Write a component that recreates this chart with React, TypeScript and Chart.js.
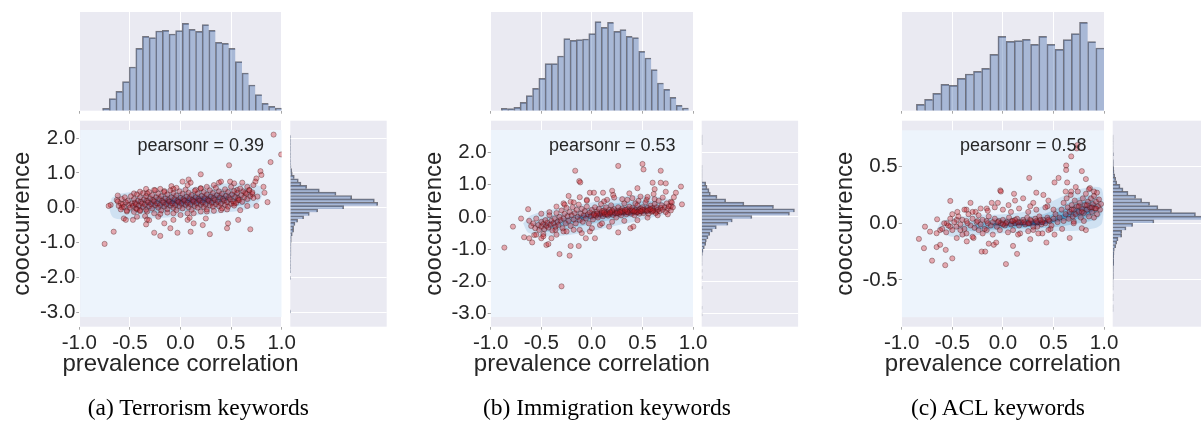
import React, { useEffect, useRef } from "react";
import { Chart, registerables } from "chart.js";
Chart.register(...registerables);

type P = [number, number];

// ---------------- data ----------------
const captions = ["(a) Terrorism keywords", "(b) Immigration keywords", "(c) ACL keywords"];
const pearsonLabels = ["pearsonr = 0.39", "pearsonr = 0.53", "pearsonr = 0.58"];
const xTitle = "prevalence correlation";
const yTitle = "cooccurrence";

const xTicks = [-1, -0.5, 0, 0.5, 1];
const xTickLabels = ["-1.0", "-0.5", "0.0", "0.5", "1.0"];
const yTicksAB = [-3, -2, -1, 0, 1, 2];
const yTickLabelsAB = ["-3.0", "-2.0", "-1.0", "0.0", "1.0", "2.0"];
const yTicksC = [-0.5, 0, 0.5];
const yTickLabelsC = ["-0.5", "0.0", "0.5"];
const yMin = [-3.42, -3.4, -0.913];
const yMax = [2.5, 2.98, 0.905];

// top marginal histograms (bar heights, first bin edge, bin width)
const topA = [7, 36, 58, 87, 131, 187, 223, 219, 239, 241, 230, 240, 262, 244, 238, 258, 241, 205, 202, 187, 147, 113, 77, 48, 22, 13, 8];
const topB = [7, 6, 10, 25, 45, 67, 97, 141, 141, 164, 216, 211, 213, 215, 231, 267, 250, 265, 238, 243, 223, 219, 178, 158, 123, 83, 64, 40, 16, 8];
const topC = [19, 34, 52, 79, 76, 97, 110, 118, 127, 169, 223, 208, 210, 214, 199, 223, 199, 184, 213, 231, 265, 207, 188];
const topStart = [-0.77, -0.895, -0.855];
const topWidth = [0.0656, 0.0617, 0.0806];
const topMax = 296;

// right marginal histograms, listed from the top bin downward
const rightA = [1, 1, 1, 1, 1, 1, 1, 1, 1, 2, 4, 6, 12, 24, 32, 49, 87, 137, 184, 252, 262, 160, 82, 57, 40, 22, 14, 10, 10, 6, 3, 3, 2, 2, 2, 2, 1, 1, 1, 1, 1, 0, 1, 0, 0, 0, 0, 0, 0, 0, 0, 0, 1];
const rightB = [1, 1, 1, 0, 0, 0, 0, 0, 0, 1, 1, 1, 1, 1, 12, 16, 22, 26, 46, 72, 127, 216, 279, 264, 151, 92, 79, 44, 32, 24, 19, 14, 12, 8, 4, 2, 1, 1, 1, 0, 1, 0, 1, 0, 0, 1, 0, 0, 0, 0, 0, 1, 0, 1];
const rightC = [1, 1, 1, 1, 1, 2, 1, 2, 2, 3, 4, 6, 9, 12, 22, 31, 46, 69, 87, 111, 136, 177, 249, 300, 124, 60, 40, 27, 27, 16, 12, 9, 5, 4, 3, 3, 3, 2, 2, 2, 2, 1, 1, 1, 0, 1, 1, 0, 1, 1];
const rightTop = [2.09, 2.54, 0.78];
const rightWidth = [0.0967, 0.104, 0.0312];
const rightMax = [289, 290, 290];

// scatter points
const scatterA: P[] = [
  [0.92, 2.1], [0.995, 1.53], [0.89, 1.31], [0.48, 1.22], [0.79, 1.05], [0.8, 0.94], [0.2, 0.96], [0.75, 0.84], [0.82, 0.6], [0.86, 0.16], [0.83, 0.43], [0.08, 0.81], [0.02, 0.75],
  [-0.75, -1.04], [-0.66, -0.69], [-0.69, 0.08], [-0.71, 0.05], [-0.62, 0.35], [-0.56, -0.31], [-0.54, -0.35], [-0.47, -0.35], [-0.34, -0.48], [-0.35, -0.24], [-0.33, -0.34], [-0.31, -0.36], [-0.26, -0.72], [-0.2, -0.81], [-0.16, -0.45], [-0.1, -0.59], [-0.03, -0.72], [0.1, -0.69], [0.13, -0.45], [0.22, -0.5], [0.29, -0.76], [0.46, -0.59], [0.47, -0.45], [0.57, -0.35], [0.69, -0.62], [0.07, -0.35], [-0.07, -0.35], [-0.22, -0.26], [-0.43, -0.26], [0.09, -0.29], [0.25, -0.31],
  [-0.09, 0.62], [-0.04, 0.57], [0.07, 0.65], [0.1, 0.72], [-0.07, 0.54], [-0.2, 0.54], [-0.16, 0.48], [-0.26, 0.51], [-0.34, 0.54], [-0.4, 0.46], [-0.46, 0.41], [-0.33, 0.41], [0.38, 0.72], [0.4, 0.75], [0.49, 0.75], [0.53, 0.7], [0.61, 0.72], [0.66, 0.6], [0.68, 0.51], [0.56, 0.51], [0.74, 0.75], [0.72, 0.65], [0.26, 0.6], [0.2, 0.56], [0.33, 0.65], [0.15, 0.51], [0.71, 0.39], [0.76, 0.32], [0.64, 0.43], [0.57, 0.22], [0.53, 0.12], [0.66, 0.05], [0.75, 0.05], [0.59, -0.07],
  [-0.63, 0.22], [-0.59, 0.12], [-0.58, 0.01], [-0.53, -0.11], [-0.44, -0.02], [-0.4, -0.07], [-0.33, -0.11], [-0.26, -0.16], [-0.2, -0.18], [-0.13, -0.14], [-0.07, -0.16], [0.0, -0.21], [0.07, -0.16], [0.13, -0.16], [0.2, -0.11], [0.26, -0.11], [0.33, -0.09], [0.4, -0.07], [0.46, -0.05],
  [-0.62, 0.18], [-0.61, 0.05], [-0.58, 0.25], [-0.57, 0.1], [-0.59, -0.05], [-0.55, 0.3], [-0.54, 0.15], [-0.56, 0.02], [-0.52, 0.2], [-0.51, 0.08], [-0.53, -0.08], [-0.49, 0.33], [-0.48, 0.12], [-0.5, 0.0], [-0.46, 0.25], [-0.45, 0.14], [-0.47, 0.05], [-0.46, -0.12], [-0.43, 0.38], [-0.42, 0.2], [-0.44, 0.1], [-0.43, -0.04], [-0.4, 0.3], [-0.39, 0.17], [-0.41, 0.06], [-0.4, -0.1], [-0.37, 0.42], [-0.36, 0.24], [-0.38, 0.12], [-0.37, 0.02], [-0.34, 0.33], [-0.33, 0.2], [-0.35, 0.09], [-0.34, -0.06], [-0.31, 0.45], [-0.3, 0.27], [-0.32, 0.15], [-0.31, 0.04], [-0.28, 0.36], [-0.27, 0.22], [-0.29, 0.1], [-0.28, -0.02], [-0.25, 0.5], [-0.24, 0.3], [-0.26, 0.18], [-0.25, 0.07], [-0.22, 0.4], [-0.21, 0.25], [-0.23, 0.12], [-0.22, 0.0], [-0.19, 0.33], [-0.18, 0.2], [-0.2, 0.08], [-0.19, -0.08], [-0.16, 0.45], [-0.15, 0.27], [-0.17, 0.15], [-0.16, 0.03], [-0.13, 0.38], [-0.12, 0.22], [-0.14, 0.1], [-0.13, -0.04], [-0.1, 0.5], [-0.09, 0.3], [-0.11, 0.17], [-0.1, 0.06], [-0.07, 0.42], [-0.06, 0.25], [-0.08, 0.12], [-0.07, 0.0], [-0.04, 0.35], [-0.03, 0.2], [-0.05, 0.08], [-0.04, -0.07], [-0.01, 0.47], [0.0, 0.28], [-0.02, 0.16], [-0.01, 0.04], [0.02, 0.4], [0.03, 0.24], [0.01, 0.12], [0.02, -0.02], [0.05, 0.52], [0.06, 0.32], [0.04, 0.2], [0.05, 0.08], [0.08, 0.43], [0.09, 0.27], [0.07, 0.14], [0.08, 0.01], [0.11, 0.36], [0.12, 0.22], [0.1, 0.1], [0.11, -0.06], [0.14, 0.48], [0.15, 0.3], [0.13, 0.18], [0.14, 0.05], [0.17, 0.41], [0.18, 0.25], [0.16, 0.13], [0.17, 0.0], [0.2, 0.55], [0.21, 0.34], [0.19, 0.2], [0.2, 0.08], [0.23, 0.45], [0.24, 0.28], [0.22, 0.15], [0.23, 0.02], [0.26, 0.38], [0.27, 0.23], [0.25, 0.1], [0.26, -0.05], [0.29, 0.5], [0.3, 0.32], [0.28, 0.2], [0.29, 0.07], [0.32, 0.42], [0.33, 0.27], [0.31, 0.14], [0.32, 0.03], [0.35, 0.57], [0.36, 0.36], [0.34, 0.22], [0.35, 0.1], [0.38, 0.47], [0.39, 0.3], [0.37, 0.17], [0.38, 0.04], [0.41, 0.4], [0.42, 0.25], [0.4, 0.12], [0.41, -0.02], [0.44, 0.53], [0.45, 0.34], [0.43, 0.2], [0.44, 0.08], [0.47, 0.45], [0.48, 0.29], [0.46, 0.16], [0.47, 0.03], [0.5, 0.6], [0.51, 0.38], [0.49, 0.24], [0.5, 0.11], [0.53, 0.48], [0.54, 0.31], [0.52, 0.18], [0.53, 0.06], [0.56, 0.42], [0.57, 0.27], [0.55, 0.14], [0.59, 0.55], [0.6, 0.36], [0.58, 0.22], [0.62, 0.47], [0.63, 0.3], [0.61, 0.17], [0.65, 0.4], [0.66, 0.25], [0.68, 0.5], [0.69, 0.33], [0.71, 0.44], [0.72, 0.28],
];

const scatterB: P[] = [
  [-0.865, -0.95], [-0.78, -0.3], [-0.7, -0.05], [-0.67, -0.63], [-0.63, 0.24], [-0.62, -0.66], [-0.59, -0.79], [-0.57, -0.56], [-0.5, -0.66], [-0.45, -0.87], [-0.43, -0.84], [-0.48, -0.53], [-0.4, -0.66], [-0.32, -1.15], [-0.22, -1.2], [-0.3, -2.15], [-0.21, -0.9], [-0.13, -0.9],
  [-0.165, 1.43], [-0.125, 1.11], [-0.115, 1.07], [-0.23, 0.65], [-0.02, 0.75], [0.02, 0.75], [0.26, 1.58], [0.5, 1.64], [0.51, 1.47], [0.68, 1.43], [0.6, 1.06], [0.62, 0.86], [0.68, 1.06], [0.73, 1.04], [0.73, 0.78], [0.88, 0.94], [0.89, 0.39], [0.83, 0.75], [0.78, 0.47], [0.81, 0.61], [0.78, 0.34], [0.61, 0.71], [0.45, 0.89], [0.37, 0.73], [0.2, 0.81], [0.21, 0.68], [0.11, 0.75], [0.15, 0.53],
  [0.26, -0.48], [0.38, -0.35], [0.41, -0.3], [-0.06, -0.66], [0.03, -0.66], [-0.02, -0.45], [-0.1, -0.5], [0.08, -0.25], [0.17, -0.3], [-0.18, -0.4], [-0.28, -0.45], [-0.36, -0.4], [0.64, 0.16], [0.48, 0.63], [-0.28, 0.42], [-0.35, 0.32], [-0.21, 0.47], [-0.12, 0.61], [-0.05, 0.53], [0.35, 0.53], [0.43, 0.42], [0.54, 0.53],
  [-0.27, 0.38], [-0.18, 0.45], [-0.05, 0.5], [0.05, 0.55], [0.12, 0.48], [0.22, 0.6], [0.3, 0.55], [0.4, 0.58], [0.46, 0.5], [0.55, 0.62], [0.62, 0.55], [0.7, 0.6], [-0.42, 0.15], [-0.5, 0.1], [-0.55, -0.55], [-0.48, -0.6], [-0.35, -0.55], [-0.25, -0.45], [-0.12, -0.4], [0.0, -0.35], [0.1, -0.2], [0.2, -0.15], [0.32, -0.12], [0.45, -0.1], [0.55, -0.02], [0.65, 0.05], [0.75, 0.08],
  [-0.62, -0.12], [-0.6, -0.28], [-0.58, -0.2], [-0.56, -0.35], [-0.55, -0.05], [-0.53, -0.25], [-0.52, -0.4], [-0.5, -0.15], [-0.5, -0.3], [-0.48, -0.22], [-0.47, -0.38], [-0.46, -0.1], [-0.45, -0.28], [-0.44, -0.18], [-0.43, -0.33], [-0.42, 0.05], [-0.41, -0.24], [-0.4, -0.12], [-0.39, -0.42], [-0.38, -0.2], [-0.37, -0.05], [-0.36, -0.3], [-0.35, 0.12], [-0.34, -0.15], [-0.33, -0.25], [-0.32, 0.0], [-0.31, -0.1], [-0.3, 0.2], [-0.29, -0.35], [-0.28, -0.05], [-0.27, 0.1], [-0.26, -0.2], [-0.25, 0.28], [-0.24, 0.02], [-0.23, -0.12], [-0.22, 0.15], [-0.21, -0.28], [-0.2, 0.05], [-0.19, 0.3], [-0.18, -0.08], [-0.17, 0.12], [-0.16, -0.2], [-0.15, 0.22], [-0.14, 0.0], [-0.13, 0.38], [-0.12, -0.1], [-0.11, 0.1], [-0.1, 0.25], [-0.09, -0.15], [-0.08, 0.05], [-0.07, 0.18], [-0.06, -0.05], [-0.05, 0.32], [-0.04, 0.08], [-0.03, -0.2], [-0.02, 0.14], [-0.01, 0.02], [0.0, 0.22], [0.01, -0.08], [0.02, 0.1], [0.03, 0.3], [0.04, 0.04], [0.05, 0.16], [0.06, -0.02], [0.07, 0.25], [0.08, 0.08], [0.09, 0.4], [0.1, 0.12], [0.11, 0.02], [0.12, 0.2], [0.13, 0.08], [0.14, 0.3], [0.15, 0.14], [0.16, 0.04], [0.17, 0.22], [0.18, 0.1], [0.19, 0.36], [0.2, 0.16], [0.21, 0.06], [0.22, 0.24], [0.23, 0.12], [0.24, -0.02], [0.25, 0.18], [0.26, 0.3], [0.27, 0.1], [0.28, 0.2], [0.29, 0.05], [0.3, 0.26], [0.31, 0.14], [0.32, 0.42], [0.33, 0.18], [0.34, 0.08], [0.35, 0.24], [0.36, 0.13], [0.37, 0.32], [0.38, 0.2], [0.39, 0.1], [0.4, 0.28], [0.41, 0.16], [0.42, 0.05], [0.43, 0.22], [0.44, 0.14], [0.45, 0.36], [0.46, 0.2], [0.47, 0.1], [0.48, 0.26], [0.49, 0.17], [0.5, 0.3], [0.51, 0.12], [0.52, 0.22], [0.53, 0.45], [0.54, 0.18], [0.55, 0.28], [0.56, 0.1], [0.57, 0.23], [0.58, 0.35], [0.59, 0.16], [0.6, 0.27], [0.61, 0.2], [0.62, 0.4], [0.63, 0.12], [0.64, 0.3], [0.65, 0.22], [0.66, 0.5], [0.67, 0.18], [0.68, 0.28], [0.69, 0.36], [0.7, 0.22], [0.72, 0.3], [0.73, 0.15], [0.74, 0.42], [0.75, 0.25], [0.76, 0.33], [0.78, 0.2], [0.79, 0.45], [0.8, 0.3],
  [0.05, 0.1], [0.1, 0.18], [0.15, 0.08], [0.2, 0.2], [0.25, 0.12], [0.3, 0.18], [0.35, 0.16], [0.4, 0.2], [0.45, 0.15], [0.5, 0.22], [0.55, 0.2], [0.6, 0.18], [0.12, 0.14], [0.28, 0.15], [0.42, 0.18], [0.58, 0.24], [0.02, 0.06], [0.18, 0.14], [0.33, 0.22], [0.48, 0.18],
];

const scatterC: P[] = [
  [-0.83, -0.138], [-0.78, -0.22], [-0.77, -0.03], [-0.7, -0.33], [-0.655, -0.21], [-0.62, -0.19], [-0.57, -0.37], [-0.565, -0.235], [-0.5, -0.31], [-0.52, 0.197], [-0.65, 0.035], [-0.72, -0.074], [-0.655, -0.088], [-0.456, -0.13], [-0.357, -0.16], [-0.29, -0.13], [-0.36, -0.09], [-0.21, -0.25], [-0.175, -0.25], [-0.14, -0.18], [-0.09, -0.19], [-0.066, -0.17], [-0.026, 0.29], [-0.02, 0.28], [0.03, -0.36], [0.14, -0.27], [0.1, -0.2], [0.27, -0.14], [0.43, -0.17], [0.51, -0.1], [0.66, -0.13], [0.82, -0.06],
  [0.26, 0.4], [0.11, 0.26], [0.2, 0.22], [0.33, 0.27], [0.4, 0.25], [0.51, 0.36], [0.55, 0.4], [0.635, 0.36], [0.625, 0.51], [0.625, 0.47], [0.675, 0.59], [0.73, 0.66], [0.735, 0.69], [0.78, 0.46], [0.82, 0.39], [0.86, 0.31], [0.9, 0.28], [0.675, 0.28],
  [-0.27, 0.1], [-0.16, 0.13], [-0.36, 0.12], [0.3, -0.06], [0.39, -0.09], [-0.03, -0.06], [0.1, -0.06], [0.17, -0.09], [0.34, -0.03], [0.47, -0.05], [0.585, -0.05], [0.7, 0.015], [0.78, -0.044], [-0.456, 0.03], [-0.555, 0.0], [-0.62, -0.06], [-0.52, -0.03], [-0.42, -0.06], [-0.24, -0.06], [-0.16, -0.06], [-0.11, 0.18], [0.056, 0.16], [0.27, 0.15], [0.44, 0.15],
  [-0.6, -0.05], [-0.58, 0.0], [-0.56, -0.08], [-0.54, -0.02], [-0.52, 0.04], [-0.5, -0.06], [-0.48, 0.01], [-0.46, -0.03], [-0.44, 0.06], [-0.42, -0.01], [-0.4, 0.03], [-0.38, -0.05], [-0.36, 0.02], [-0.34, 0.08], [-0.32, -0.02], [-0.3, 0.04], [-0.28, -0.04], [-0.26, 0.01], [-0.24, 0.07], [-0.22, -0.01], [-0.2, 0.03], [-0.18, -0.05], [-0.16, 0.02], [-0.14, 0.06], [-0.12, -0.02], [-0.1, 0.01], [-0.08, 0.04], [-0.06, -0.03], [-0.04, 0.02], [-0.02, 0.0], [0.0, 0.03], [0.02, -0.02], [0.04, 0.01], [0.06, 0.05], [0.08, -0.01], [0.1, 0.02], [0.12, 0.0], [0.14, 0.04], [0.16, -0.02], [0.18, 0.01], [0.2, 0.03], [0.22, -0.01], [0.24, 0.05], [0.26, 0.0], [0.28, 0.02], [0.3, -0.03], [0.32, 0.04], [0.34, 0.01], [0.36, 0.06], [0.38, -0.01], [0.4, 0.03], [0.42, 0.0], [0.44, 0.05], [0.46, 0.02], [0.48, -0.02], [0.5, 0.04], [0.52, 0.08], [0.54, 0.01],
  [-0.05, 0.01], [0.03, 0.0], [0.09, 0.02], [0.15, 0.01], [0.21, 0.01], [0.27, 0.03], [0.33, 0.02], [0.39, 0.01], [0.45, 0.03], [-0.15, 0.0], [-0.25, 0.02], [-0.35, 0.0], [0.0, -0.01], [0.12, 0.03], [0.25, 0.0], [0.37, 0.03],
  [-0.45, 0.1], [-0.38, 0.12], [-0.3, 0.1], [-0.22, 0.13], [-0.15, 0.11], [-0.08, 0.14], [0.0, 0.12], [0.08, 0.1], [0.16, 0.13], [0.25, 0.1], [0.33, 0.12], [0.42, 0.14], [0.5, 0.12], [-0.5, 0.08], [-0.4, -0.1], [-0.3, -0.12], [-0.2, -0.09], [-0.1, -0.1], [0.05, -0.08], [0.15, -0.1], [0.25, -0.07], [0.35, -0.09], [0.45, -0.06], [-0.05, 0.18], [0.12, 0.2], [0.3, 0.18], [0.45, 0.2], [-0.32, 0.18],
  [0.56, 0.05], [0.58, 0.12], [0.6, 0.02], [0.6, 0.18], [0.62, 0.08], [0.63, 0.22], [0.64, 0.14], [0.65, 0.04], [0.66, 0.1], [0.67, 0.25], [0.68, 0.16], [0.69, 0.06], [0.7, 0.12], [0.71, 0.2], [0.72, 0.08], [0.73, 0.15], [0.74, 0.28], [0.75, 0.1], [0.76, 0.18], [0.77, 0.05], [0.78, 0.13], [0.79, 0.22], [0.8, 0.09], [0.81, 0.16], [0.82, 0.26], [0.83, 0.12], [0.84, 0.19], [0.85, 0.06], [0.86, 0.14], [0.87, 0.22], [0.88, 0.1], [0.89, 0.17], [0.9, 0.24], [0.91, 0.13], [0.92, 0.19], [0.93, 0.08], [0.94, 0.15], [0.95, 0.21], [0.96, 0.12], [0.97, 0.17], [0.7, 0.0], [0.8, 0.02], [0.9, 0.05], [0.62, 0.28], [0.72, 0.32], [0.85, 0.3], [0.93, 0.27], [0.78, 0.1], [0.88, 0.14], [0.68, 0.12], [0.83, 0.16], [0.75, 0.15], [0.92, 0.13],
];

// KDE contour levels (lowest level first), vertices in data units
const kdeA: P[][] = [
  [[-0.99, 2.23], [1.0, 2.23], [1.0, -3.14], [-0.99, -3.14]],
  [[-0.68, 0.28], [-0.6, 0.4], [-0.3, 0.5], [0.1, 0.58], [0.5, 0.7], [0.78, 0.62], [0.8, 0.3], [0.7, 0.0], [0.4, -0.15], [0.0, -0.25], [-0.4, -0.32], [-0.65, -0.3], [-0.7, -0.05], [-0.68, 0.28]],
  [[-0.55, 0.22], [-0.3, 0.38], [0.1, 0.46], [0.5, 0.55], [0.7, 0.48], [0.68, 0.15], [0.4, 0.0], [0.0, -0.1], [-0.4, -0.15], [-0.58, -0.05], [-0.55, 0.22]],
  [[-0.45, 0.2], [-0.2, 0.33], [0.2, 0.4], [0.55, 0.42], [0.6, 0.25], [0.35, 0.08], [0.0, 0.0], [-0.35, -0.05], [-0.5, 0.05], [-0.45, 0.2]],
  [[-0.3, 0.2], [0.0, 0.3], [0.35, 0.35], [0.5, 0.3], [0.4, 0.15], [0.1, 0.08], [-0.2, 0.05], [-0.35, 0.1], [-0.3, 0.2]],
  [[-0.15, 0.2], [0.1, 0.27], [0.3, 0.28], [0.3, 0.18], [0.05, 0.12], [-0.15, 0.12], [-0.15, 0.2]],
];
const kdeB: P[][] = [
  [[-1.0, 2.69], [1.0, 2.69], [1.0, -3.1], [-1.0, -3.1]],
  [[-0.68, -0.2], [-0.6, 0.05], [-0.35, 0.25], [0.0, 0.45], [0.35, 0.65], [0.7, 0.6], [0.82, 0.4], [0.78, 0.15], [0.55, -0.05], [0.2, -0.3], [-0.1, -0.5], [-0.4, -0.6], [-0.62, -0.5], [-0.68, -0.2]],
  [[-0.58, -0.2], [-0.45, 0.0], [-0.2, 0.15], [0.1, 0.35], [0.4, 0.48], [0.7, 0.45], [0.75, 0.25], [0.5, 0.05], [0.15, -0.12], [-0.2, -0.35], [-0.5, -0.45], [-0.58, -0.2]],
  [[-0.5, -0.2], [-0.3, -0.05], [0.0, 0.15], [0.3, 0.3], [0.65, 0.35], [0.68, 0.18], [0.4, 0.05], [0.1, -0.05], [-0.2, -0.2], [-0.45, -0.35], [-0.5, -0.2]],
  [[-0.15, 0.02], [0.1, 0.17], [0.4, 0.25], [0.62, 0.25], [0.55, 0.12], [0.3, 0.05], [0.05, -0.02], [-0.12, -0.06], [-0.15, 0.02]],
  [[0.05, 0.1], [0.3, 0.2], [0.5, 0.2], [0.45, 0.1], [0.2, 0.05], [0.05, 0.03], [0.05, 0.1]],
];
const kdeC: P[][] = [
  [[-1.0, 0.82], [1.0, 0.82], [1.0, -0.83], [-1.0, -0.83]],
  [[-0.65, -0.05], [-0.6, 0.02], [-0.3, 0.07], [0.0, 0.08], [0.3, 0.12], [0.55, 0.22], [0.75, 0.3], [0.98, 0.3], [0.98, 0.0], [0.8, -0.06], [0.5, -0.07], [0.2, -0.08], [-0.2, -0.1], [-0.5, -0.12], [-0.65, -0.05]],
  [[-0.5, -0.04], [-0.2, 0.04], [0.1, 0.05], [0.4, 0.08], [0.6, 0.16], [0.8, 0.24], [0.96, 0.22], [0.96, 0.06], [0.75, 0.0], [0.45, -0.04], [0.1, -0.05], [-0.3, -0.07], [-0.5, -0.04]],
  [[-0.3, -0.02], [0.0, 0.03], [0.35, 0.04], [0.6, 0.12], [0.85, 0.2], [0.95, 0.14], [0.85, 0.06], [0.6, 0.02], [0.3, -0.03], [0.0, -0.04], [-0.25, -0.05], [-0.3, -0.02]],
  [[-0.1, 0.0], [0.15, 0.025], [0.45, 0.03], [0.7, 0.12], [0.9, 0.16], [0.88, 0.1], [0.65, 0.05], [0.4, -0.01], [0.1, -0.025], [-0.1, -0.02], [-0.1, 0.0]],
  [[0.05, 0.0], [0.3, 0.02], [0.45, 0.02], [0.4, -0.01], [0.15, -0.015], [0.05, 0.0]],
];

const scatterData = [scatterA, scatterB, scatterC];
const kdeData = [kdeA, kdeB, kdeC];
const topData = [topA, topB, topC];
const rightData = [rightA, rightB, rightC];

// ---------------- styling / layout ----------------
const FONT = "'Liberation Sans', Arial, Helvetica, sans-serif";
const TEXT = "#262626";
const BG = "#EAEAF2";
const TICKC = "rgba(60,60,60,0.45)";
const BAR_FILL = "rgba(76,114,176,0.42)";
const BAR_EDGE = "rgba(40,40,50,0.6)";
const PT_FILL = "rgba(210,30,40,0.36)";
const PT_EDGE = "rgba(55,15,15,0.42)";
const KDE_COLORS = ["#EDF4FC", "#CFE1F2", "#A9CCE6", "#77B3D9", "#4292C6", "#1F6AAE"];

const CW = 1220;
const CH = 423;
const OFFS = [0, 411.4, 822.4];
const SC = { left: 79.3, right: 281.7, top: 120.7, bottom: 326.7, axisBottom: 380, xTitleMid: 364.3 };
const TOPH = { top: 12, bottom: 110.7 };
const RH = { left: 290.3, right: 386.7 };
const CAPTION_X = [198.3, 607, 998];

Chart.defaults.font.family = FONT;

const bgPlugin = {
  id: "bgArea",
  beforeDraw(chart: any) {
    const { ctx, chartArea: a } = chart;
    ctx.save();
    ctx.fillStyle = BG;
    ctx.fillRect(a.left, a.top, a.right - a.left, a.bottom - a.top);
    ctx.restore();
  },
};

function textPlugin(pearson: string) {
  return {
    id: "texts",
    afterDatasetsDraw(chart: any) {
      const { ctx, chartArea: a } = chart;
      ctx.save();
      ctx.font = `18px ${FONT}`;
      ctx.fillStyle = TEXT;
      ctx.textAlign = "right";
      ctx.textBaseline = "alphabetic";
      ctx.fillText(pearson, a.right - 17.6, 151);
      ctx.restore();
    },
    afterDraw(chart: any) {
      const { ctx, chartArea: a } = chart;
      ctx.save();
      ctx.font = `24px ${FONT}`;
      ctx.fillStyle = TEXT;
      ctx.textAlign = "center";
      ctx.textBaseline = "middle";
      ctx.fillText(xTitle, (a.left + a.right) / 2, SC.xTitleMid);
      ctx.restore();
    },
  };
}

function scatterConfig(i: number): any {
  const dx = OFFS[i];
  const yt = i === 2 ? yTicksC : yTicksAB;
  const yl = i === 2 ? yTickLabelsC : yTickLabelsAB;
  const datasets: any[] = [
    {
      type: "scatter",
      data: scatterData[i].map(([x, y]) => ({ x, y })),
      backgroundColor: PT_FILL,
      borderColor: PT_EDGE,
      borderWidth: 0.8,
      pointRadius: 2.6,
      clip: 0,
      order: 0,
    },
  ];
  kdeData[i].forEach((poly, k) => {
    datasets.push({
      type: "line",
      data: poly.map(([x, y]) => ({ x, y })),
      fill: "shape",
      backgroundColor: KDE_COLORS[k],
      borderColor: "rgba(0,0,0,0)",
      borderWidth: 0,
      pointRadius: 0,
      tension: k === 0 ? 0 : 0.35,
      order: 10 - k,
    });
  });
  return {
    type: "scatter",
    data: { datasets },
    options: {
      animation: false,
      responsive: false,
      events: [],
      layout: { padding: { left: dx, right: CW - SC.right - dx, top: SC.top, bottom: CH - SC.axisBottom } },
      plugins: { legend: { display: false }, tooltip: { enabled: false } },
      scales: {
        x: {
          type: "linear",
          min: -1,
          max: 1,
          afterBuildTicks: (s: any) => { s.ticks = xTicks.map((v) => ({ value: v })); },
          ticks: { autoSkip: false, maxRotation: 0, minRotation: 0, padding: 1, color: TEXT, font: { size: 20.5 }, callback: (_v: any, idx: number) => xTickLabels[idx] },
          grid: { color: "#ffffff", lineWidth: 1, tickLength: 3, tickColor: TICKC },
          border: { display: false },
          title: { display: false },
          afterFit: (s: any) => { s.height = SC.axisBottom - SC.bottom; },
        },
        y: {
          type: "linear",
          min: yMin[i],
          max: yMax[i],
          afterBuildTicks: (s: any) => { s.ticks = yt.map((v) => ({ value: v })); },
          ticks: { autoSkip: false, padding: 1, color: TEXT, font: { size: 20.5 }, callback: (_v: any, idx: number) => yl[idx] },
          grid: { color: "#ffffff", lineWidth: 1, tickLength: 3, tickColor: TICKC },
          border: { display: false },
          title: { display: true, text: yTitle, color: TEXT, font: { size: 24 }, padding: { top: 8.2, bottom: 0 } },
          afterFit: (s: any) => { s.width = SC.left; },
        },
      },
    },
    plugins: [bgPlugin, textPlugin(pearsonLabels[i])],
  };
}

function topConfig(i: number): any {
  const dx = OFFS[i];
  return {
    type: "bar",
    data: {
      datasets: [
        {
          data: topData[i].map((c, k) => ({ x: topStart[i] + topWidth[i] * (k + 0.5), y: c })),
          backgroundColor: BAR_FILL,
          borderColor: BAR_EDGE,
          borderWidth: { top: 1, left: 1, right: 0, bottom: 0 },
          barPercentage: 1,
          categoryPercentage: 1,
        },
      ],
    },
    options: {
      animation: false,
      responsive: false,
      events: [],
      layout: { padding: { left: SC.left + dx, right: CW - SC.right - dx, top: TOPH.top, bottom: CH - TOPH.bottom } },
      plugins: { legend: { display: false }, tooltip: { enabled: false } },
      scales: {
        x: {
          type: "linear",
          min: -1,
          max: 1,
          offset: false,
          afterBuildTicks: (s: any) => { s.ticks = xTicks.map((v) => ({ value: v })); },
          ticks: { display: false },
          grid: { offset: false, color: "#ffffff", lineWidth: 1, tickLength: 3, tickColor: TICKC },
          border: { display: false },
          afterFit: (s: any) => { s.height = 0; },
        },
        y: { display: false, min: 0, max: topMax },
      },
    },
    plugins: [bgPlugin],
  };
}

function rightConfig(i: number): any {
  const dx = OFFS[i];
  const yt = i === 2 ? yTicksC : yTicksAB;
  return {
    type: "bar",
    data: {
      datasets: [
        {
          data: rightData[i].map((c, k) => ({ y: rightTop[i] - rightWidth[i] * (k + 0.5), x: c })),
          backgroundColor: BAR_FILL,
          borderColor: BAR_EDGE,
          borderWidth: { top: 1, right: 1, bottom: 0, left: 0 },
          barPercentage: 1,
          categoryPercentage: 1,
        },
      ],
    },
    options: {
      indexAxis: "y",
      animation: false,
      responsive: false,
      events: [],
      layout: { padding: { left: RH.left + dx, right: CW - RH.right - dx, top: SC.top, bottom: CH - SC.bottom } },
      plugins: { legend: { display: false }, tooltip: { enabled: false } },
      scales: {
        y: {
          type: "linear",
          min: yMin[i],
          max: yMax[i],
          offset: false,
          afterBuildTicks: (s: any) => { s.ticks = yt.map((v) => ({ value: v })); },
          ticks: { display: false },
          grid: { offset: false, color: "#ffffff", lineWidth: 1, drawTicks: false },
          border: { display: false },
          afterFit: (s: any) => { s.width = 0; },
        },
        x: { display: false, min: 0, max: rightMax[i] },
      },
    },
    plugins: [bgPlugin],
  };
}

export default function App() {
  const refs = useRef<(HTMLCanvasElement | null)[]>([]);
  useEffect(() => {
    const charts: Chart[] = [];
    for (let i = 0; i < 3; i++) {
      const cfgs = [topConfig(i), scatterConfig(i), rightConfig(i)];
      cfgs.forEach((cfg, j) => {
        const c = refs.current[i * 3 + j];
        if (c) charts.push(new Chart(c, cfg));
      });
    }
    return () => charts.forEach((c) => c.destroy());
  }, []);

  return (
    <div style={{ position: "absolute", left: 0, top: 0, width: 1201, height: 423, overflow: "hidden", background: "#ffffff" }}>
      {Array.from({ length: 9 }).map((_, k) => (
        <canvas
          key={k}
          ref={(el) => { refs.current[k] = el; }}
          width={CW}
          height={CH}
          style={{ position: "absolute", left: 0, top: 0, width: CW, height: CH }}
        />
      ))}
      {captions.map((t, i) => (
        <div
          key={t}
          style={{
            position: "absolute",
            left: CAPTION_X[i] - 200,
            top: 396.3,
            width: 400,
            textAlign: "center",
            fontFamily: "'Liberation Serif', 'Times New Roman', serif",
            fontSize: "23.5px",
            lineHeight: "23.5px",
            color: "#000",
            whiteSpace: "nowrap",
          }}
        >
          {t}
        </div>
      ))}
    </div>
  );
}
